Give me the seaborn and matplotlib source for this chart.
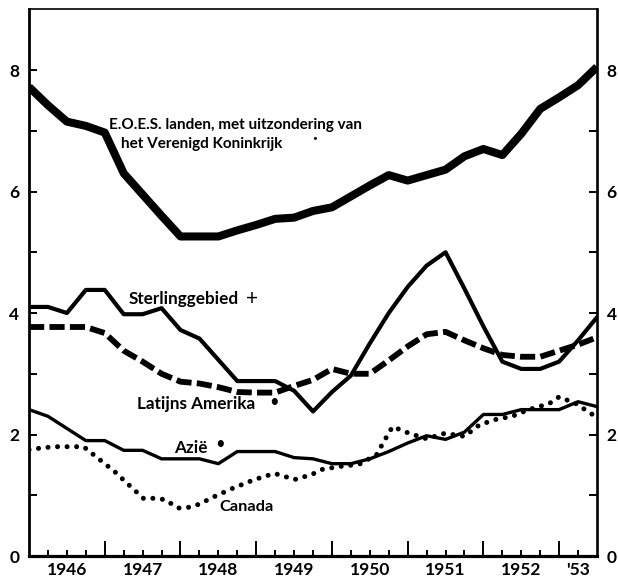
# rebuild of the 1946-1953 trade-share chart (scanned original)
import numpy as np
import pandas as pd
import matplotlib
matplotlib.use("Agg")
import matplotlib.pyplot as plt
from matplotlib.ticker import FixedLocator, FixedFormatter, NullFormatter
import seaborn as sns

# ------------- DATA -------------
quarters = [1946.0, 1946.25, 1946.5, 1946.75, 1947.0, 1947.25, 1947.5, 1947.75,
            1948.0, 1948.25, 1948.5, 1948.75, 1949.0, 1949.25, 1949.5, 1949.75,
            1950.0, 1950.25, 1950.5, 1950.75, 1951.0, 1951.25, 1951.5, 1951.75,
            1952.0, 1952.25, 1952.5, 1952.75, 1953.0, 1953.25, 1953.5]

eoes = [7.72, 7.42, 7.15, 7.08, 6.97, 6.30, 5.95, 5.60,
        5.26, 5.26, 5.26, 5.36, 5.45, 5.55, 5.57, 5.68,
        5.74, 5.92, 6.10, 6.27, 6.18, 6.27, 6.36, 6.58,
        6.70, 6.60, 6.95, 7.36, 7.55, 7.75, 8.05]

sterling = [4.10, 4.10, 4.00, 4.38, 4.38, 3.98, 3.98, 4.08,
            3.72, 3.58, 3.23, 2.88, 2.88, 2.88, 2.72, 2.38,
            2.70, 2.97, 3.50, 4.00, 4.43, 4.78, 5.00, 4.40,
            3.78, 3.20, 3.08, 3.08, 3.20, 3.55, 3.93]

latin_am = [3.77, 3.77, 3.77, 3.77, 3.67, 3.38, 3.20, 3.00,
            2.87, 2.84, 2.78, 2.70, 2.69, 2.69, 2.80, 2.90,
            3.08, 3.00, 3.00, 3.22, 3.45, 3.65, 3.69, 3.55,
            3.42, 3.31, 3.28, 3.28, 3.38, 3.48, 3.60]

azie = [2.41, 2.30, 2.10, 1.90, 1.90, 1.74, 1.74, 1.60,
        1.60, 1.60, 1.52, 1.72, 1.72, 1.72, 1.62, 1.60,
        1.52, 1.52, 1.60, 1.72, 1.86, 1.98, 1.92, 2.04,
        2.33, 2.33, 2.41, 2.41, 2.41, 2.54, 2.46]

# canada wiggles more, so it gets its own (finer) time points
canada_x = [1946.0, 1946.17, 1946.34, 1946.55, 1946.72, 1946.92, 1947.13, 1947.31,
            1947.51, 1947.65, 1947.79, 1947.97, 1948.1, 1948.24, 1948.45, 1948.68,
            1948.98, 1949.24, 1949.51, 1949.73, 1949.88, 1950.14, 1950.36, 1950.59,
            1950.67, 1950.8, 1951.02, 1951.25, 1951.49, 1951.75, 1951.95, 1952.17,
            1952.38, 1952.6, 1952.87, 1953.0, 1953.22, 1953.44]
canada = [1.75, 1.78, 1.80, 1.80, 1.80, 1.60, 1.39, 1.18,
          0.95, 0.95, 0.93, 0.79, 0.80, 0.85, 0.98, 1.11,
          1.26, 1.36, 1.26, 1.34, 1.43, 1.48, 1.51, 1.67,
          1.85, 2.13, 2.02, 1.93, 2.02, 1.97, 2.16, 2.25,
          2.30, 2.41, 2.51, 2.62, 2.51, 2.33]

year_ticks = [1947, 1948, 1949, 1950, 1951, 1952, 1953]
year_labels = ["1946", "1947", "1948", "1949", "1950", "1951", "1952", "'53"]
label_pos = [1946.5, 1947.5, 1948.5, 1949.5, 1950.5, 1951.5, 1952.5, 1953.25]
y_major = [0, 2, 4, 6, 8]
y_minor = [1, 3, 5, 7]

# ------------- STYLE -------------
sns.set_theme(style="white", rc={"axes.edgecolor": "black"})
plt.rcParams["font.family"] = ["Lato", "DejaVu Sans"]
INK = "black"

df = pd.DataFrame({"t": quarters, "eoes": eoes, "sterling": sterling,
                   "latin": latin_am, "azie": azie})
df_ca = pd.DataFrame({"t": canada_x, "canada": canada})

fig = plt.figure(figsize=(6.18, 5.78), dpi=100)
ax = fig.add_axes([0.047, 0.038, 0.919, 0.946])

sns.lineplot(data=df, x="t", y="eoes", ax=ax, color=INK, lw=5.8,
             solid_joinstyle="round", solid_capstyle="butt", errorbar=None)
sns.lineplot(data=df, x="t", y="sterling", ax=ax, color=INK, lw=3.0,
             solid_joinstyle="round", errorbar=None)
sns.lineplot(data=df, x="t", y="latin", ax=ax, color=INK, lw=4.2,
             linestyle=(0, (2.6, 0.9)), dash_capstyle="butt", errorbar=None)
sns.lineplot(data=df, x="t", y="azie", ax=ax, color=INK, lw=2.4,
             solid_joinstyle="round", errorbar=None)
sns.lineplot(data=df_ca, x="t", y="canada", ax=ax, color=INK, lw=3.6,
             linestyle=(0, (0.01, 1.9)), dash_capstyle="round", errorbar=None)

ax.set_xlim(1946.0, 1953.5)
ax.set_ylim(0, 9)
ax.set_xlabel("")
ax.set_ylabel("")

# x axis: long ticks at year starts, short at quarters, labels mid-year
quarter_ticks = [q for q in quarters if q % 1 != 0 and q < 1953.5]
ax.xaxis.set_major_locator(FixedLocator(year_ticks))
ax.xaxis.set_major_formatter(NullFormatter())
ax.xaxis.set_minor_locator(FixedLocator(quarter_ticks))
ax.xaxis.set_minor_formatter(FixedFormatter(
    [year_labels[label_pos.index(q)] if q in label_pos else "" for q in quarter_ticks]))
ax.tick_params(axis="x", which="major", direction="in", length=11, width=1.4,
               color=INK, bottom=True, top=False)
ax.tick_params(axis="x", which="minor", direction="in", length=4.5, width=1.4,
               color=INK, bottom=True, top=False, pad=4, labelsize=12.5,
               labelcolor=INK)

# y axis: ticks and labels on both sides
ax.yaxis.set_major_locator(FixedLocator(y_major))
ax.yaxis.set_minor_locator(FixedLocator(y_minor))
ax.tick_params(axis="y", which="both", direction="in", length=6, width=1.4,
               color=INK, left=True, right=True, labelleft=True, labelright=True,
               pad=7, labelsize=12.5, labelcolor=INK)
for lab in ax.get_xticklabels(minor=True) + ax.get_yticklabels():
    lab.set_fontweight("bold")

for side, w in {"left": 2.0, "bottom": 2.3, "right": 1.9, "top": 1.2}.items():
    ax.spines[side].set_linewidth(w)
    ax.spines[side].set_color(INK)

# series labels written into the plot
txt = dict(color=INK, fontweight="bold", va="center")
ax.text(1947.05, 7.09, "E.O.E.S. landen, met uitzondering van", ha="left",
        fontsize=11, **txt)
ax.text(1947.21, 6.79, "het Verenigd Koninkrijk", ha="left", fontsize=11, **txt)
ax.text(1949.77, 6.88, "•", ha="center", color=INK, fontsize=6, va="center")
ax.text(1947.32, 4.23, "Sterlinggebied", ha="left", fontsize=12.3, **txt)
ax.text(1948.95, 4.23, "+", ha="center", color=INK, fontsize=15, va="center")
ax.text(1947.42, 2.50, "Latijns Amerika", ha="left", fontsize=12.3, **txt)
ax.text(1949.23, 2.53, "•", ha="center", color=INK, fontsize=12, va="center")
ax.text(1947.91, 1.78, "Azië", ha="left", fontsize=12.3, **txt)
ax.text(1948.52, 1.84, "•", ha="center", color=INK, fontsize=12, va="center")
ax.text(1948.52, 0.81, "Canada", ha="left", fontsize=11.8, **txt)

fig.savefig("out.png", dpi=100)
print("saved out.png")
